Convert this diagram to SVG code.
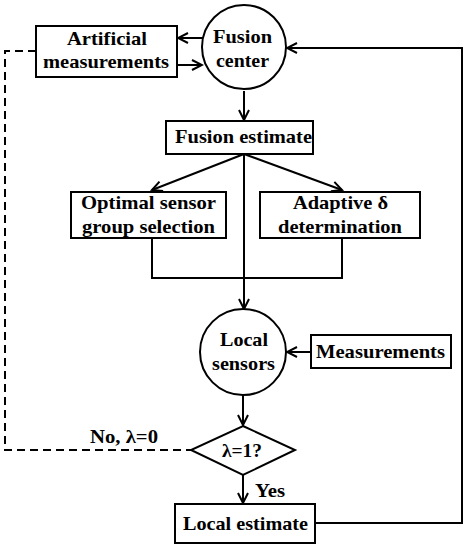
<svg xmlns="http://www.w3.org/2000/svg" width="468" height="550" viewBox="0 0 468 550">
<style>
.box{fill:#fff;stroke:#000;stroke-width:2}
.ln{fill:none;stroke:#000;stroke-width:2}
.dash{fill:none;stroke:#000;stroke-width:2;stroke-dasharray:8,5}
text{font-family:"Liberation Serif","Times New Roman",serif;font-weight:bold;font-size:19px;fill:#000;text-anchor:middle}
</style>
<defs>
<marker id="ah" markerWidth="14" markerHeight="14" refX="12" refY="7" orient="auto" markerUnits="userSpaceOnUse">
<path d="M2,2 L12,7 L2,12" fill="none" stroke="#000" stroke-width="2"/>
</marker>
</defs>
<rect width="468" height="550" fill="#fff"/>
<g id="connectors">
<line class="ln" x1="203" y1="38" x2="178" y2="38" marker-end="url(#ah)"/>
<line class="ln" x1="177" y1="65" x2="202" y2="65" marker-end="url(#ah)"/>
<polyline class="dash" points="36,51 5,51 5,450 191,450"/>
<line class="ln" x1="244" y1="91" x2="244" y2="120" marker-end="url(#ah)"/>
<line class="ln" x1="244" y1="154" x2="152" y2="190" marker-end="url(#ah)"/>
<line class="ln" x1="244" y1="154" x2="342" y2="190" marker-end="url(#ah)"/>
<line class="ln" x1="244" y1="154" x2="244" y2="309" marker-end="url(#ah)"/>
<polyline class="ln" points="152,238 152,278 342,278 342,238"/>
<line class="ln" x1="311" y1="352" x2="287" y2="352" marker-end="url(#ah)"/>
<line class="ln" x1="243" y1="395" x2="243" y2="425" marker-end="url(#ah)"/>
<line class="ln" x1="243" y1="475" x2="243" y2="503" marker-end="url(#ah)"/>
<polyline class="ln" points="315,523 462,523 462,48 287,48" marker-end="url(#ah)"/>
<text x="124" y="443" textLength="68" lengthAdjust="spacingAndGlyphs">No, λ=0</text>
<text x="270" y="497" textLength="30" lengthAdjust="spacingAndGlyphs">Yes</text>
</g>
<g id="fusion-center">
<circle class="box" cx="244" cy="47" r="42"/>
<text x="242.5" y="43" textLength="59" lengthAdjust="spacingAndGlyphs">Fusion</text>
<text x="242.5" y="67" textLength="53" lengthAdjust="spacingAndGlyphs">center</text>
</g>
<g id="artificial-measurements">
<rect class="box" x="36" y="26" width="141" height="51"/>
<text x="107" y="45" textLength="80" lengthAdjust="spacingAndGlyphs">Artificial</text>
<text x="106" y="68" textLength="126" lengthAdjust="spacingAndGlyphs">measurements</text>
</g>
<g id="fusion-estimate">
<rect class="box" x="166" y="121" width="147" height="33"/>
<text x="243.5" y="143" textLength="137" lengthAdjust="spacingAndGlyphs">Fusion estimate</text>
</g>
<g id="optimal-sensor">
<rect class="box" x="71" y="192" width="155" height="46"/>
<text x="148.5" y="208.5" textLength="135" lengthAdjust="spacingAndGlyphs">Optimal sensor</text>
<text x="148.5" y="233" textLength="133" lengthAdjust="spacingAndGlyphs">group selection</text>
</g>
<g id="adaptive-delta">
<rect class="box" x="260" y="192" width="160" height="46"/>
<text x="340.5" y="208.5" textLength="95" lengthAdjust="spacingAndGlyphs">Adaptive δ</text>
<text x="340" y="233" textLength="124" lengthAdjust="spacingAndGlyphs">determination</text>
</g>
<g id="local-sensors">
<circle class="box" cx="243" cy="352" r="43"/>
<text x="244" y="346" textLength="48" lengthAdjust="spacingAndGlyphs">Local</text>
<text x="243.5" y="370" textLength="63" lengthAdjust="spacingAndGlyphs">sensors</text>
</g>
<g id="measurements">
<rect class="box" x="311" y="335" width="140" height="33"/>
<text x="380.5" y="357.5" textLength="129" lengthAdjust="spacingAndGlyphs">Measurements</text>
</g>
<g id="lambda-decision">
<polygon class="box" points="243,426 295,450 243,475 191,450"/>
<text x="242" y="457" textLength="40" lengthAdjust="spacingAndGlyphs">λ=1?</text>
</g>
<g id="local-estimate">
<rect class="box" x="175" y="504" width="140" height="39"/>
<text x="245.5" y="530" textLength="125" lengthAdjust="spacingAndGlyphs">Local estimate</text>
</g>
</svg>
